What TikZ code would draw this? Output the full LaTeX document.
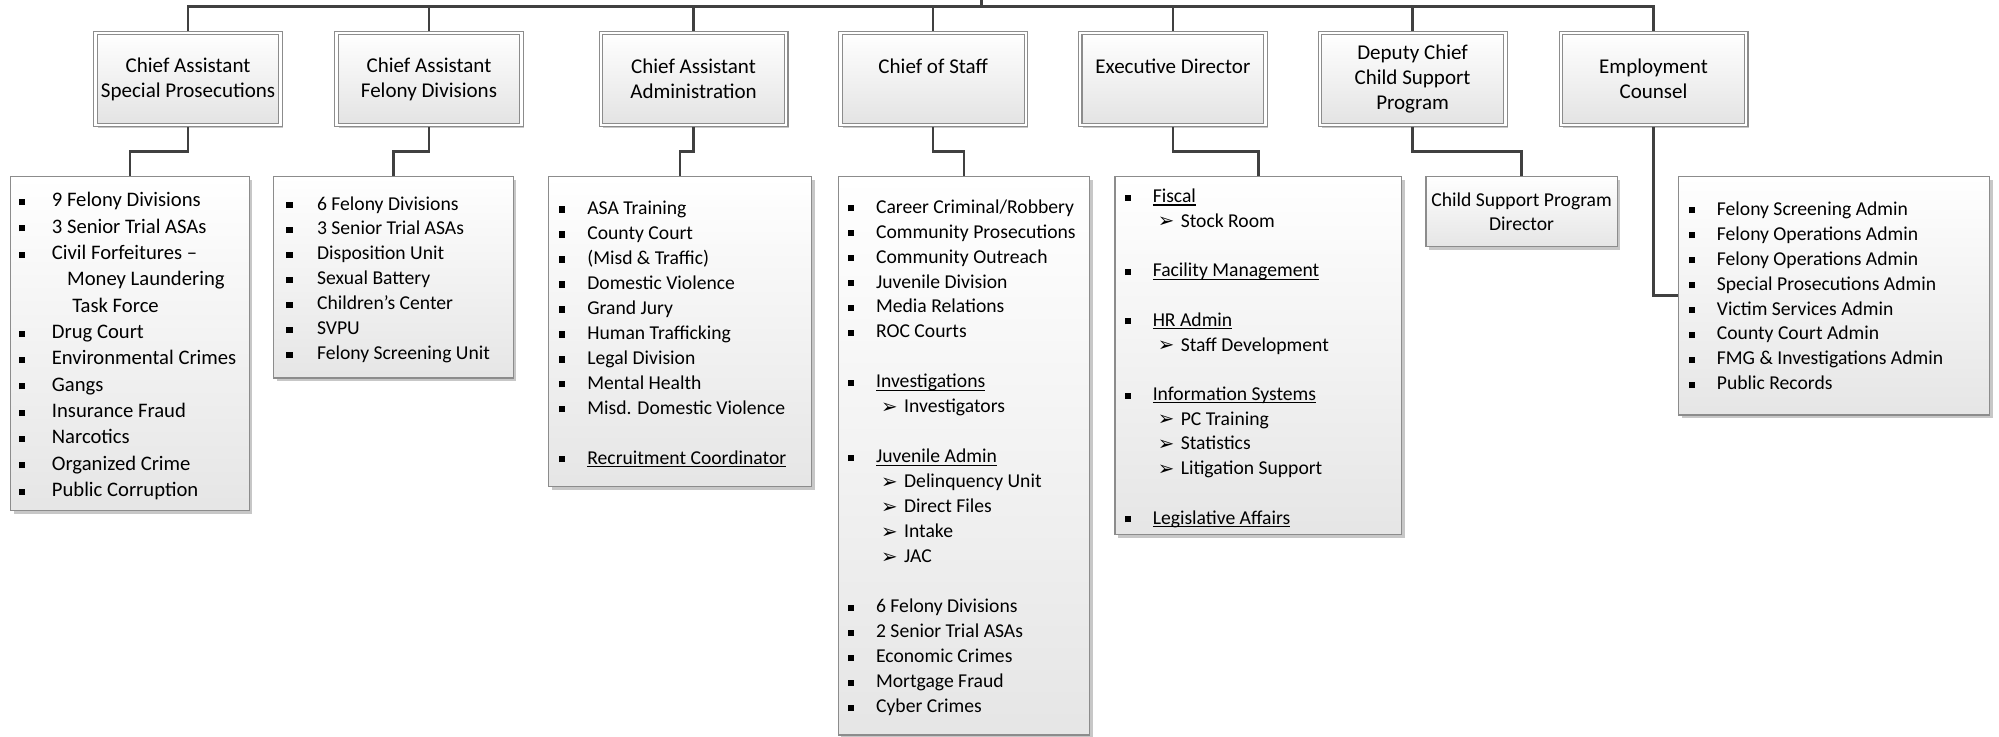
\documentclass[tikz,border=0pt]{standalone}
\usepackage{fontspec}
\setmainfont{Carlito}
\newfontfamily\dingfont{DejaVu Sans}
\usetikzlibrary{shadows}
\definecolor{connc}{HTML}{404040}
\definecolor{boxline}{HTML}{8C8C8C}
% bullet-to-text distance inside the lists
\newlength\bw
\setlength\bw{22pt}
\newcommand\itm[1]{\makebox[\bw][l]{\rule[1.4pt]{4.8pt}{4.8pt}}#1}
\newcommand\sitm[1]{\hspace*{\dimexpr\bw+4pt\relax}\makebox[18pt][l]{\raisebox{-0.3pt}{\dingfont\fontsize{15.5}{15.5}\selectfont ➢}}#1}
\newcommand\ulx[1]{\setbox0\hbox{#1}\rlap{\rule[-2.3pt]{\wd0}{0.9pt}}\box0}
\newcommand\gapline{\mbox{}}
\begin{document}
\begin{tikzpicture}[x=1pt,y=-1pt,
  conn/.style={draw=connc,line width=2pt},
  topbox/.style={draw=boxline, double=white, double distance=2pt, line width=0.8pt,
    top color=white, bottom color=black!11, minimum width=145.4pt, minimum height=72.4pt,
    inner sep=0pt, outer sep=1.8pt, align=center, font=\fontsize{16.5}{19.5}\selectfont,
    drop shadow={shadow xshift=2pt, shadow yshift=-2pt, opacity=0.22, fill=black}},
  listbox/.style={draw=boxline, line width=1pt, top color=white, bottom color=black!10,
    inner sep=0pt,
    drop shadow={shadow xshift=2.5pt, shadow yshift=-2.5pt, opacity=0.22, fill=black}},
  listtext/.style={anchor=west, inner sep=0pt, align=left,
    font=\fontsize{15.4}{19.6}\selectfont,
    execute at begin node={\setlength\bw{#1}}},
  listtext/.default=22pt,
]
\useasboundingbox (0,0) rectangle (1568,578);

% top row
\node[topbox] (b1) at (147.5,62) {Chief Assistant\\Special Prosecutions};
\node[topbox] (b2) at (336.5,62) {Chief Assistant\\Felony Divisions};
\node[topbox] (b3) at (544,62) {Chief Assistant\\Administration};
\node[topbox] (b4) at (732,62) {Chief of Staff\\\mbox{}};
\node[topbox] (b5) at (920,62) {Executive Director\\\mbox{}};
\node[topbox] (b6) at (1108,62) {Deputy Chief\\Child Support\\Program};
\node[topbox] (b7) at (1297,62) {Employment\\Counsel};

% unit boxes
\node[listbox, minimum width=187pt, minimum height=262pt] (c1) at (102,269.5) {};
\node[listbox, minimum width=188pt, minimum height=158pt] (c2) at (308.5,217.5) {};
\node[listbox, minimum width=206pt, minimum height=243pt] (c3) at (533.5,260) {};
\node[listbox, minimum width=197pt, minimum height=438pt] (c4) at (756,357.5) {};
\node[listbox, minimum width=225pt, minimum height=281pt] (c5) at (987,279) {};
\node[listbox, minimum width=150pt, minimum height=55pt, align=center,
      font=\fontsize{15.4}{19.2}\selectfont] (c6) at (1193.5,166) {Child Support Program\\Director};
\node[listbox, minimum width=244pt, minimum height=187pt] (c7) at (1438.5,232) {};

% unit lists
\node[listtext=26pt, font=\fontsize{16.2}{20.65}\selectfont] (t1) at ([xshift=6.5pt,yshift=-2pt]c1.west) {%
\itm{9 Felony Divisions}\\
\itm{3 Senior Trial ASAs}\\
\itm{Civil Forfeitures –}\\
\hspace*{\dimexpr\bw+12pt\relax}Money Laundering\\
\hspace*{\dimexpr\bw+16pt\relax}Task Force\\
\itm{Drug Court}\\
\itm{Environmental Crimes}\\
\itm{Gangs}\\
\itm{Insurance Fraud}\\
\itm{Narcotics}\\
\itm{Organized Crime}\\
\itm{Public Corruption}};

\node[listtext=24pt] (t2) at ([xshift=10.5pt,yshift=-2pt]c2.west) {%
\itm{6 Felony Divisions}\\
\itm{3 Senior Trial ASAs}\\
\itm{Disposition Unit}\\
\itm{Sexual Battery}\\
\itm{Children’s Center}\\
\itm{SVPU}\\
\itm{Felony Screening Unit}};

\node[listtext] (t3) at ([xshift=8.5pt,yshift=-2pt]c3.west) {%
\itm{ASA Training}\\
\itm{County Court}\\
\itm{(Misd \& Traffic)}\\
\itm{Domestic Violence}\\
\itm{Grand Jury}\\
\itm{Human Trafficking}\\
\itm{Legal Division}\\
\itm{Mental Health}\\
\itm{Misd. Domestic Violence}\\
\gapline\\
\itm{\ulx{Recruitment Coordinator}}};

\node[listtext] (t4) at ([xshift=8pt,yshift=-1.5pt]c4.west) {%
\itm{Career Criminal/Robbery}\\
\itm{Community Prosecutions}\\
\itm{Community Outreach}\\
\itm{Juvenile Division}\\
\itm{Media Relations}\\
\itm{ROC Courts}\\
\gapline\\
\itm{\ulx{Investigations}}\\
\sitm{Investigators}\\
\gapline\\
\itm{\ulx{Juvenile Admin}}\\
\sitm{Delinquency Unit}\\
\sitm{Direct Files}\\
\sitm{Intake}\\
\sitm{JAC}\\
\gapline\\
\itm{6 Felony Divisions}\\
\itm{2 Senior Trial ASAs}\\
\itm{Economic Crimes}\\
\itm{Mortgage Fraud}\\
\itm{Cyber Crimes}};

\node[listtext, font=\fontsize{15.4}{19.4}\selectfont] (t5) at ([xshift=8pt,yshift=-2pt]c5.west) {%
\itm{\ulx{Fiscal}}\\
\sitm{Stock Room}\\
\gapline\\
\itm{\ulx{Facility Management}}\\
\gapline\\
\itm{\ulx{HR Admin}}\\
\sitm{Staff Development}\\
\gapline\\
\itm{\ulx{Information Systems}}\\
\sitm{PC Training}\\
\sitm{Statistics}\\
\sitm{Litigation Support}\\
\gapline\\
\itm{\ulx{Legislative Affairs}}};

\node[listtext] (t7) at ([xshift=8.5pt]c7.west) {%
\itm{Felony Screening Admin}\\
\itm{Felony Operations Admin}\\
\itm{Felony Operations Admin}\\
\itm{Special Prosecutions Admin}\\
\itm{Victim Services Admin}\\
\itm{County Court Admin}\\
\itm{FMG \& Investigations Admin}\\
\itm{Public Records}};

% connectors
\coordinate (top) at (770,-3);
\coordinate (bus) at (770,5);
\draw[conn] (top) -- (bus);
\draw[conn] (b1.north) -- (b1.north |- bus) -- (b7.north |- bus) -- (b7.north);
\foreach \i in {2,...,6} {\draw[conn] (b\i.north |- bus) -- (b\i.north);}
\foreach \i in {1,...,6} {\draw[conn] (b\i.south) -- ++(0,19) -| (c\i.north);}
\draw[conn] (b7.south) |- (c7.west);
\end{tikzpicture}
\end{document}
